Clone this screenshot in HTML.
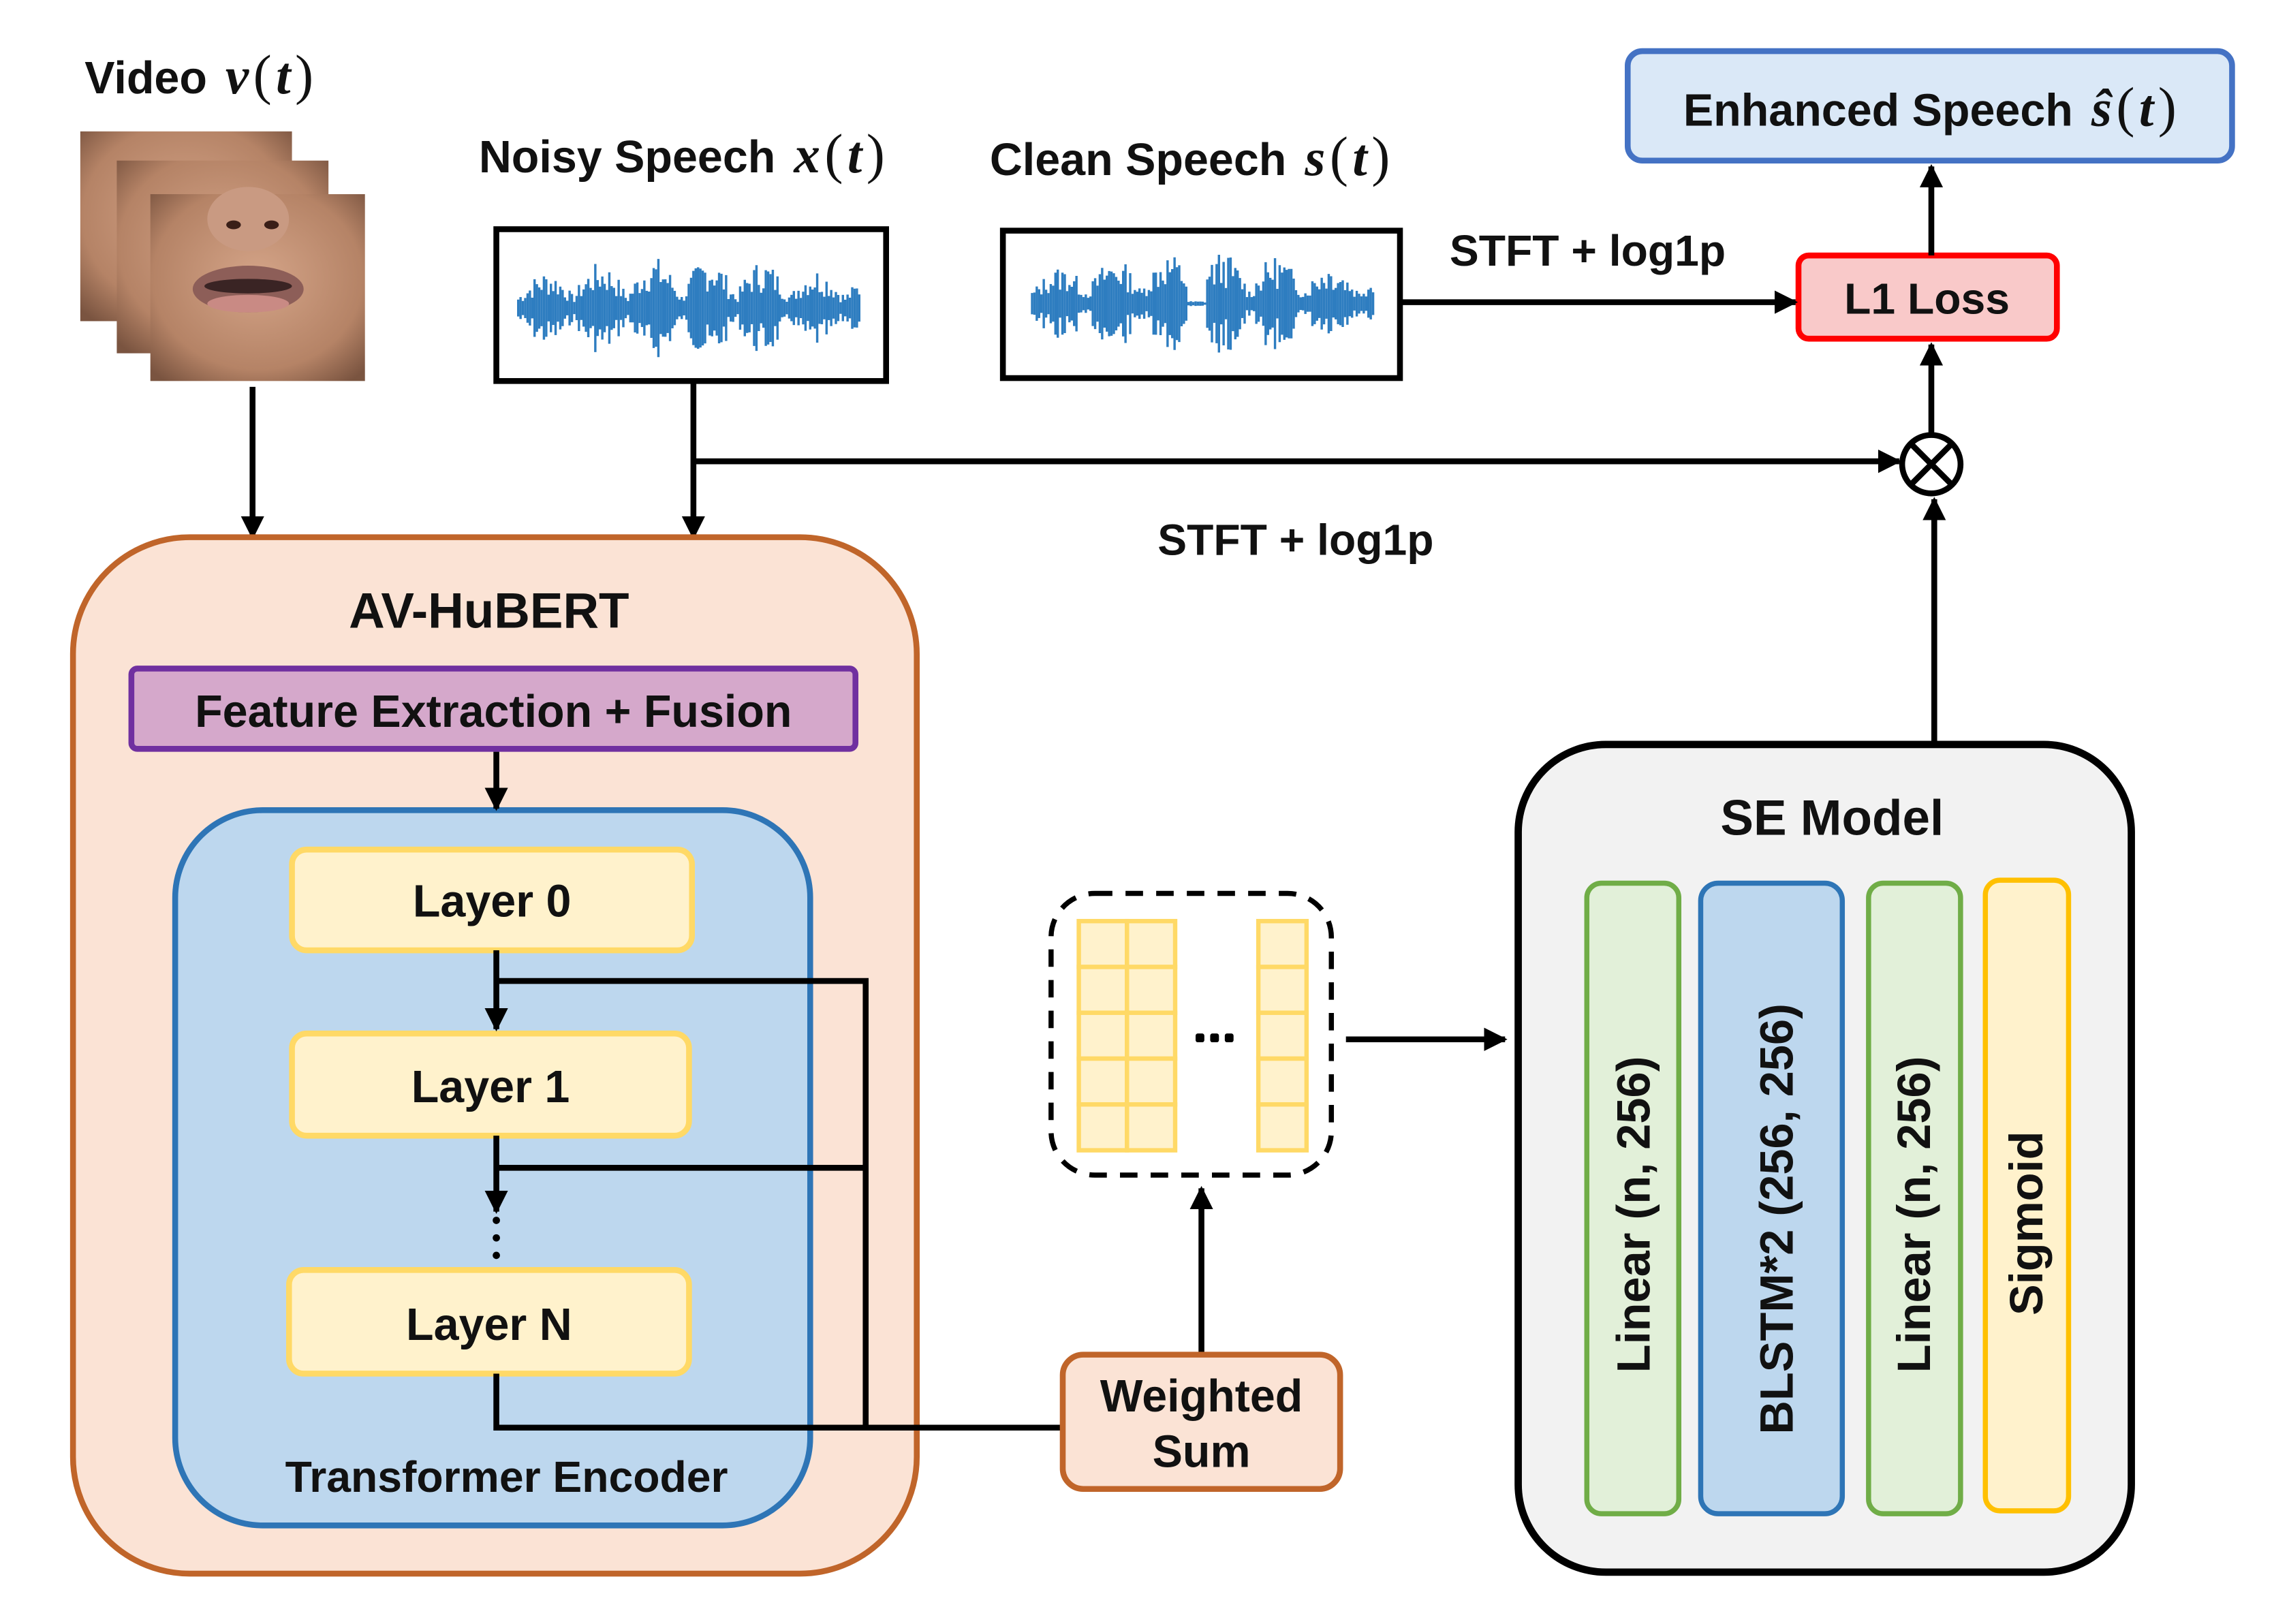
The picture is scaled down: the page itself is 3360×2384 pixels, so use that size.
<!DOCTYPE html>
<html><head><meta charset="utf-8"><style>
html,body{margin:0;padding:0;background:#fff;}
svg{display:block;}
text{font-family:"Liberation Sans",sans-serif;font-weight:bold;fill:#111;}
.m{font-family:"Liberation Serif",serif;font-style:italic;font-weight:bold;font-size:36px;}
.p{font-family:"Liberation Serif",serif;font-weight:normal;font-size:38px;}
</style></head><body>
<svg width="3360" height="2384" viewBox="0 0 1568 1112.5" xmlns="http://www.w3.org/2000/svg">
<defs>
<marker id="ah" viewBox="0 0 10 10" refX="9" refY="5" markerWidth="4" markerHeight="4" orient="auto-start-reverse" markerUnits="strokeWidth">
<path d="M0,0 L10,5 L0,10 z" fill="#000"/></marker>
<radialGradient id="skin" cx="0.5" cy="0.45" r="0.7">
<stop offset="0" stop-color="#d4a488"/><stop offset="0.7" stop-color="#b58366"/><stop offset="1" stop-color="#7a5440"/></radialGradient>
</defs>

<!-- Video -->
<text x="58" y="64" font-size="31">Video <tspan class="m" dx="4">v</tspan><tspan class="p" dx="3">(</tspan><tspan class="m" dx="3">t</tspan><tspan class="p" dx="3">)</tspan></text>
<rect x="55" y="90" width="145" height="130" fill="url(#skin)"/>
<rect x="80" y="110" width="145" height="132" fill="url(#skin)"/>
<rect x="103" y="133" width="147" height="128" fill="url(#skin)"/>
<ellipse cx="170" cy="150" rx="28" ry="22" fill="#c99a82"/>
<ellipse cx="160" cy="154" rx="5" ry="3" fill="#3a1f18"/><ellipse cx="186" cy="154" rx="5" ry="3" fill="#3a1f18"/>
<ellipse cx="170" cy="198" rx="38" ry="16" fill="#8d5e58"/>
<ellipse cx="170" cy="196" rx="30" ry="5" fill="#3a2424"/>
<ellipse cx="170" cy="208" rx="28" ry="6" fill="#c98a84"/>

<!-- Noisy -->
<text x="328" y="118" font-size="31">Noisy Speech <tspan class="m" dx="4">x</tspan><tspan class="p" dx="3">(</tspan><tspan class="m" dx="3">t</tspan><tspan class="p" dx="3">)</tspan></text>
<rect x="340" y="157" width="267" height="104" fill="#fff" stroke="#000" stroke-width="4"/>
<g id="w1" stroke="#2e7dc0" stroke-width="1.6"></g>
<!-- Clean -->
<text x="678" y="120" font-size="31">Clean Speech <tspan class="m" dx="4">s</tspan><tspan class="p" dx="3">(</tspan><tspan class="m" dx="3">t</tspan><tspan class="p" dx="3">)</tspan></text>
<rect x="687" y="158" width="272" height="101" fill="#fff" stroke="#000" stroke-width="4"/>
<g id="w2" stroke="#2e7dc0" stroke-width="1.6"></g>

<!-- Enhanced -->
<rect x="1115" y="35" width="414" height="75" rx="10" fill="#dae8f7" stroke="#4472c4" stroke-width="4"/>
<text x="1322" y="86" font-size="31" text-anchor="middle">Enhanced Speech <tspan class="m" dx="4">ŝ</tspan><tspan class="p" dx="3">(</tspan><tspan class="m" dx="3">t</tspan><tspan class="p" dx="3">)</tspan></text>
<!-- L1 -->
<rect x="1232" y="175" width="177" height="57" rx="7" fill="#f9c9c9" stroke="#f00" stroke-width="4"/>
<text x="1320" y="215" font-size="30" text-anchor="middle">L1 Loss</text>
<text x="993" y="182" font-size="30">STFT + log1p</text>
<text x="793" y="380" font-size="30">STFT + log1p</text>

<g stroke="#000" stroke-width="4" fill="none">
<line x1="960" y1="207" x2="1230" y2="207" marker-end="url(#ah)"/>
<line x1="1323" y1="175" x2="1323" y2="114" marker-end="url(#ah)"/>
<line x1="1323" y1="298" x2="1323" y2="236" marker-end="url(#ah)"/>
<line x1="475" y1="262" x2="475" y2="368" marker-end="url(#ah)"/>
<line x1="475" y1="316" x2="1301" y2="316" marker-end="url(#ah)"/>
<line x1="173" y1="265" x2="173" y2="368" marker-end="url(#ah)"/>
<line x1="1325" y1="510" x2="1325" y2="342" marker-end="url(#ah)"/>
<circle cx="1323" cy="318" r="20" fill="#fff"/>
<line x1="1309" y1="304" x2="1337" y2="332"/><line x1="1337" y1="304" x2="1309" y2="332"/>
</g>

<!-- AV-HuBERT -->
<rect x="50" y="368" width="578" height="710" rx="80" fill="#fbe3d5" stroke="#c0652a" stroke-width="4"/>
<text x="335" y="430" font-size="34" text-anchor="middle">AV-HuBERT</text>
<rect x="90" y="458" width="496" height="55" rx="4" fill="#d5a8cb" stroke="#7030a0" stroke-width="4"/>
<text x="338" y="498" font-size="31" text-anchor="middle">Feature Extraction + Fusion</text>
<rect x="120" y="555" width="435" height="490" rx="60" fill="#bdd7ee" stroke="#2e75b6" stroke-width="4"/>
<rect x="200" y="582" width="274" height="69" rx="10" fill="#fff2cc" stroke="#ffd966" stroke-width="4"/>
<text x="337" y="628" font-size="31" text-anchor="middle">Layer 0</text>
<rect x="200" y="708" width="272" height="70" rx="10" fill="#fff2cc" stroke="#ffd966" stroke-width="4"/>
<text x="336" y="755" font-size="31" text-anchor="middle">Layer 1</text>
<rect x="198" y="870" width="274" height="71" rx="10" fill="#fff2cc" stroke="#ffd966" stroke-width="4"/>
<text x="335" y="918" font-size="31" text-anchor="middle">Layer N</text>
<text x="347" y="1022" font-size="30" text-anchor="middle">Transformer Encoder</text>
<g stroke="#000" stroke-width="4" fill="none">
<line x1="340" y1="515" x2="340" y2="554" marker-end="url(#ah)"/>
<line x1="340" y1="651" x2="340" y2="705" marker-end="url(#ah)"/>
<line x1="340" y1="778" x2="340" y2="830" marker-end="url(#ah)"/>
<polyline points="340,672 593,672 593,977"/>
<line x1="340" y1="800" x2="593" y2="800"/>
<polyline points="340,941 340,978 728,978"/>
<line x1="823" y1="928" x2="823" y2="814" marker-end="url(#ah)"/>
<line x1="922" y1="712" x2="1031" y2="712" marker-end="url(#ah)"/>
</g>
<g fill="#000"><circle cx="340" cy="836" r="2.5"/><circle cx="340" cy="848" r="2.5"/><circle cx="340" cy="860" r="2.5"/></g>

<!-- Weighted sum -->
<rect x="728" y="928" width="190" height="92" rx="14" fill="#fbe3d5" stroke="#c0652a" stroke-width="4"/>
<text x="823" y="967" font-size="31" text-anchor="middle">Weighted</text>
<text x="823" y="1005" font-size="31" text-anchor="middle">Sum</text>

<!-- dashed grid -->
<rect x="720" y="612" width="192" height="193" rx="30" fill="none" stroke="#000" stroke-width="3.5" stroke-dasharray="12,9"/>
<g id="grid" fill="#fff2cc" stroke="#ffd966" stroke-width="3"></g>
<g fill="#000"><rect x="819" y="708" width="6" height="6" rx="1.5"/><rect x="829" y="708" width="6" height="6" rx="1.5"/><rect x="839" y="708" width="6" height="6" rx="1.5"/></g>

<!-- SE model -->
<rect x="1040" y="510" width="420" height="567" rx="60" fill="#f2f2f2" stroke="#000" stroke-width="5"/>
<text x="1255" y="572" font-size="34" text-anchor="middle">SE Model</text>
<rect x="1087" y="605" width="63" height="432" rx="10" fill="#e2f0d9" stroke="#70ad47" stroke-width="3.5"/>
<rect x="1165" y="605" width="97" height="432" rx="12" fill="#bdd7ee" stroke="#2e75b6" stroke-width="3.5"/>
<rect x="1280" y="605" width="63" height="432" rx="10" fill="#e2f0d9" stroke="#70ad47" stroke-width="3.5"/>
<rect x="1360" y="603" width="57" height="432" rx="10" fill="#fff2cc" stroke="#ffc000" stroke-width="3.5"/>
<text transform="translate(1130,832) rotate(-90)" font-size="32" text-anchor="middle">Linear (n, 256)</text>
<text transform="translate(1228,835) rotate(-90)" font-size="32" text-anchor="middle">BLSTM*2 (256, 256)</text>
<text transform="translate(1322,832) rotate(-90)" font-size="32" text-anchor="middle">Linear (n, 256)</text>
<text transform="translate(1399,838) rotate(-90)" font-size="32" text-anchor="middle">Sigmoid</text>
</svg>
<script>
var NS="http://www.w3.org/2000/svg";
function rnd(s){return function(){s=(s*9301+49297)%233280;return s/233280;};}
function wave(id,x0,x1,cy,amp,seed,gaps){var g=document.getElementById(id),r=rnd(seed);
for(var x=x0;x<=x1;x+=1.6){var t=(x-x0)/(x1-x0);var env=0.25+0.75*Math.abs(Math.sin(t*Math.PI*6.3))*(0.5+0.5*Math.sin(t*Math.PI));
gaps.forEach(function(gp){if(Math.abs(t-gp)<0.03)env=0.05;});
var h=amp*env*(0.3+0.7*r());var l=document.createElementNS(NS,"line");
l.setAttribute("x1",x);l.setAttribute("x2",x);l.setAttribute("y1",cy-h);l.setAttribute("y2",cy+h);g.appendChild(l);}}
wave("w1",355,590,211,36,7,[]);
wave("w2",707,942,208,36,13,[0.48]);
var gr=document.getElementById("grid");
function cell(x,y,w,h){var r=document.createElementNS(NS,"rect");r.setAttribute("x",x);r.setAttribute("y",y);r.setAttribute("width",w);r.setAttribute("height",h);gr.appendChild(r);}
for(var i=0;i<5;i++){cell(739,631+i*31.4,33,31.4);cell(772,631+i*31.4,33,31.4);cell(862,631+i*31.4,33,31.4);}
</script>
</body></html>
